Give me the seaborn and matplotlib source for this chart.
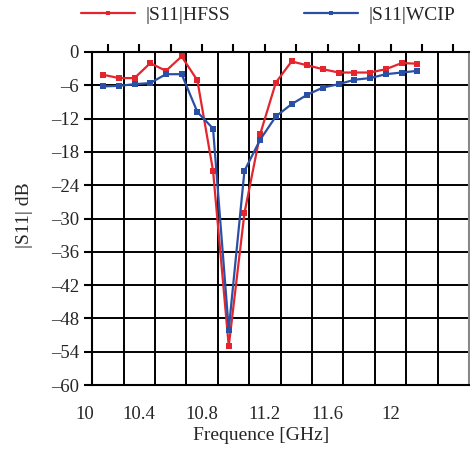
import pandas as pd
import matplotlib
matplotlib.use("Agg")
import matplotlib.pyplot as plt
import seaborn as sns

# frequency points (GHz) and |S11| (dB)
freq = [10.17, 10.27, 10.37, 10.47, 10.57, 10.67, 10.77, 10.87, 10.97, 11.07, 11.17,
        11.27, 11.37, 11.47, 11.57, 11.67, 11.77, 11.87, 11.97, 12.07, 12.17]
s11_hfss = [-4.1, -4.7, -4.7, -2.0, -3.4, -0.8, -5.1, -21.4, -53.0, -29.0, -14.8,
            -5.5, -1.7, -2.4, -3.1, -3.7, -3.7, -3.7, -3.1, -2.0, -2.1]
s11_wcip = [-6.2, -6.1, -5.8, -5.6, -4.0, -4.0, -10.8, -13.8, -50.0, -21.4, -15.8,
            -11.6, -9.4, -7.7, -6.4, -5.8, -5.0, -4.7, -4.0, -3.7, -3.4]
series_names = ["|S11|HFSS", "|S11|WCIP"]
colors = ["#e3262d", "#2a50a5"]

xlabels_pos = [10.4, 10.8, 11.2, 11.6, 12.0]
xlabels = ["10.4", "10.8", "11.2", "11.6", "12"]
yticks = list(range(-60, 1, 6))

df = pd.DataFrame({
    "freq": freq + freq,
    "s11": s11_hfss + s11_wcip,
    "series": [series_names[0]] * len(freq) + [series_names[1]] * len(freq),
})

sns.set_style("ticks")
plt.rcParams["font.family"] = ["Liberation Serif", "DejaVu Serif"]

fig = plt.figure(figsize=(4.7, 4.49), dpi=100)
ax = fig.add_axes([0.196, 0.1425, 0.802, 0.7417])

sns.lineplot(data=df, x="freq", y="s11", hue="series", palette=colors,
             marker="s", markersize=4, markeredgewidth=0, linewidth=1.6,
             ax=ax, legend=False)

ax.set_xlim(10.1, 12.5)
ax.set_ylim(-60, 0)

# grid lines sit between the tick marks
gx = [10.1 + 0.2 * i for i in range(13)]
ax.set_xticks(gx, minor=True)
ax.set_xticks(xlabels_pos)
ax.set_xticklabels(xlabels)
ax.set_yticks(yticks)
ax.set_yticklabels([str(v).replace("-", "\u2013") for v in yticks])
ax.tick_params(axis="x", which="both", length=0, labelsize=13.5, pad=15)
ax.tick_params(axis="y", which="major", direction="out", length=6, width=1.5,
               labelsize=13.5, color="black")
ax.grid(False)
ax.grid(True, which="minor", axis="x", color="black", linewidth=1.4)
ax.grid(True, which="major", axis="y", color="black", linewidth=1.4)
ax.set_axisbelow(True)
ax.annotate("10", xy=(10.055, 0), xycoords=("data", "axes fraction"),
            xytext=(0, -15), textcoords="offset points", ha="center", va="top",
            fontsize=13.5, annotation_clip=False)
for sp in ax.spines.values():
    sp.set_visible(True)
    sp.set_color("black")
    sp.set_linewidth(1.5)
ax.spines["right"].set_color("#888888")

top = ax.secondary_xaxis("top")
top.set_xticks([10.2 + 0.2 * i for i in range(12)])
top.set_xticklabels([])
top.tick_params(direction="out", length=6, width=1.5, color="black")
top.spines["top"].set_visible(False)

ax.set_xlabel("Frequence [GHz]", fontsize=14)
ax.xaxis.set_label_coords(0.448, -0.125)
ax.set_ylabel("|S11| dB", fontsize=14)
ax.yaxis.set_label_coords(-0.156, 0.51)

fig.legend(handles=ax.get_lines()[:2], labels=series_names, loc="center",
           bbox_to_anchor=(0.57, 0.967), ncol=2, frameon=False, fontsize=14,
           handlelength=2.8, columnspacing=3.8, handletextpad=0.5,
           markerscale=0.7)

fig.savefig("out.png", dpi=100, facecolor="white")
